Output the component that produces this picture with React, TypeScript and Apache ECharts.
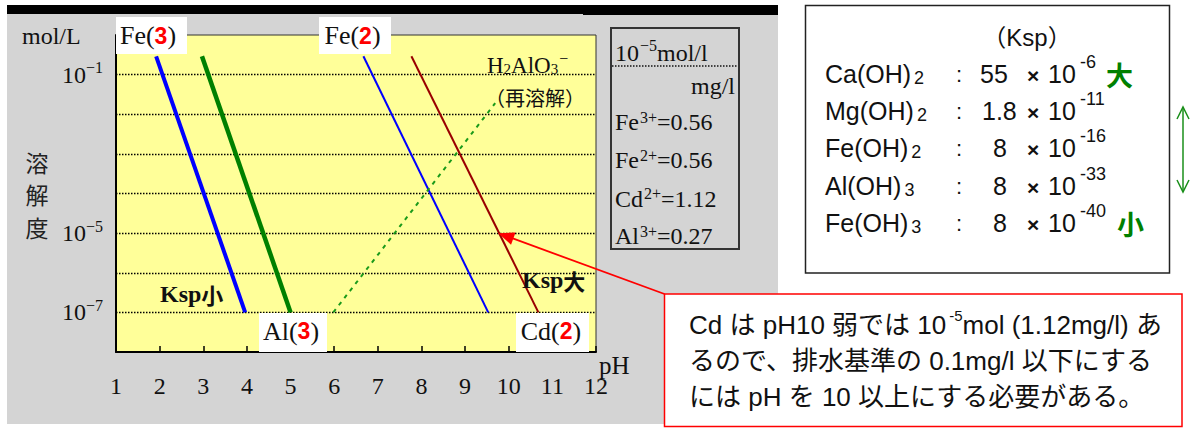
import React, { useEffect, useRef } from 'react';
import * as echarts from 'echarts';

const SERIF = "'Liberation Serif', 'DejaVu Serif', serif";
const SANS = "'Liberation Sans', Arial, sans-serif";
const CJK = "'Noto Sans CJK JP', sans-serif";
const MIXED = "'Liberation Sans', 'Noto Sans CJK JP', sans-serif";

// ---- axes ----
const PH_RANGE = [1, 12];
const SOLUBILITY_RANGE = [1e-8, 1];
const LABELED_EXPONENTS = [-1, -5, -7];

// ---- solubility lines: [pH, mol/L] ----
const FE3_LINE = [[1.92, 0.29], [3.96, 1e-7]];
const AL3_LINE = [[2.97, 0.29], [5.0, 1e-7]];
const FE2_LINE = [[6.67, 0.29], [9.53, 1e-7]];
const CD2_LINE = [[7.77, 0.29], [10.68, 1e-7]];
const ALUMINATE_LINE = [[5.98, 1e-7], [9.69, 0.019]];

// point on the Cd line referred to by the note
const CD_NOTE_POINT = [9.76, 1e-5];

// ---- 10^-5 mol/l expressed in mg/l ----
const ION_NAMES = ['Fe', 'Fe', 'Cd', 'Al'];
const ION_CHARGES = ['3+', '2+', '2+', '3+'];
const ION_MGL = ['0.56', '0.56', '1.12', '0.27'];

// ---- solubility products ----
const KSP_BASES = ['Ca(OH)', 'Mg(OH)', 'Fe(OH)', 'Al(OH)', 'Fe(OH)'];
const KSP_SUBS = ['2', '2', '2', '3', '3'];
const KSP_COEFS = ['55', '1.8', '8', '8', '8'];
const KSP_EXPS = ['-6', '-11', '-16', '-33', '-40'];

// ---- note text ----
const NOTE_LINE1_A = 'Cd は pH10 弱では 10';
const NOTE_LINE1_SUP = '-5';
const NOTE_LINE1_B = 'mol (1.12mg/l) あ';
const NOTE_LINE2 = 'るので、排水基準の 0.1mg/l 以下にする';
const NOTE_LINE3 = 'には pH を 10 以上にする必要がある。';

// ---- layout ----
const GRID = { left: 116, top: 35, width: 480, height: 317 };
const KSP_ROW_Y = [74, 111, 148, 186, 223];
const KSP_COEF_X = [980, 982, 993, 993, 993];
const ION_ROW_Y = [122, 160, 198.5, 236];
const NOTE_CORNER = [664.5, 294];

type El = Record<string, any>;

const al = (h: string, v: string) => ({ align: h, textAlign: h, verticalAlign: v, textVerticalAlign: v });

const text = (x: number, y: number, content: string, style: El = {}, z = 12): El => ({
  type: 'text',
  x,
  y,
  z,
  silent: true,
  style: { text: content, fill: '#111', ...al('left', 'middle'), ...style },
});

const rect = (x: number, y: number, w: number, h: number, style: El, z = 10): El => ({
  type: 'rect',
  z,
  silent: true,
  shape: { x, y, width: w, height: h },
  style,
});

const TAG_RICH = {
  t: { fontFamily: SERIF, fontSize: 26, fill: '#111' },
  r: { fontFamily: SANS, fontWeight: 'bold', fontSize: 23, fill: '#ff0000' },
};

const tag = (x: number, y: number, w: number, h: number, cx: number, cy: number, name: string, num: string): El[] => [
  rect(x, y, w, h, { fill: '#ffffff' }, 11),
  text(cx, cy, `{t|${name}(}{r|${num}}{t|)}`, { ...al('center', 'middle'), rich: TAG_RICH }, 12),
];

const LEG_RICH = {
  t: { fontFamily: SERIF, fontSize: 24, fill: '#111' },
  s: { fontFamily: SERIF, fontSize: 16, fill: '#111', padding: [0, 0, 10, 1] },
  S: { fontFamily: SERIF, fontSize: 16, fill: '#111', padding: [0, 0, 15, 1] },
};

function baseElements(): El[] {
  const els: El[] = [];

  // panel behind the chart
  els.push(rect(7, 13, 771, 411, { fill: '#d4d4d4' }, -10));
  els.push(rect(7, 5, 771, 9, { fill: '#000000' }, -9));
  els.push(rect(583, 13, 195, 2, { fill: '#000000' }, -9));

  // line tags
  els.push(...tag(116, 17, 71, 37, 148, 35.5, 'Fe', '3'));
  els.push(...tag(319, 17, 72, 37, 352.5, 35.5, 'Fe', '2'));
  els.push(...tag(259, 313, 68, 39, 291, 331, 'Al', '3'));
  els.push(...tag(516, 313, 73, 39, 551, 331, 'Cd', '2'));

  // aluminate annotation
  els.push(
    text(487, 65, '{t|H}{b|2}{t|AlO}{b|3}{p|−}', {
      rich: {
        t: { fontFamily: SERIF, fontSize: 23, fill: '#111' },
        b: { fontFamily: SERIF, fontSize: 15, fill: '#111', padding: [8, 0, 0, 0] },
        p: { fontFamily: SERIF, fontSize: 16, fill: '#111', padding: [0, 0, 14, 1] },
      },
    })
  );
  els.push(text(485, 97, '（再溶解）', { fontFamily: CJK, fontSize: 20 }));

  // Ksp small / large
  const kspRich = {
    k: { fontFamily: SERIF, fontWeight: 'bold', fontSize: 24, fill: '#111' },
    c: { fontFamily: CJK, fontWeight: 'bold', fontSize: 22, fill: '#111' },
  };
  els.push(text(160, 294, '{k|Ksp}{c|小}', { rich: kspRich }));
  els.push(text(522, 280, '{k|Ksp}{c|大}', { rich: kspRich }));

  // axis titles
  els.push(text(22, 36, 'mol/L', { fontFamily: SERIF, fontSize: 24 }));
  els.push(
    text(37, 194, '溶\n解\n度', { fontFamily: CJK, fontSize: 23, lineHeight: 32.5, fill: '#222', ...al('center', 'middle') })
  );
  els.push(text(599, 365, 'pH', { fontFamily: SERIF, fontSize: 25 }));

  // mg/l reference box
  els.push(rect(611, 28, 128, 221, { fill: 'none', stroke: '#333', lineWidth: 2 }, 10));
  els.push(text(615, 53, '{t|10}{S|−5}{t|mol/l}', { rich: LEG_RICH }));
  els.push({
    type: 'line',
    z: 11,
    silent: true,
    shape: { x1: 612, y1: 66, x2: 738, y2: 66 },
    style: { stroke: '#111', lineWidth: 1.4, lineDash: [1.5, 1.5] },
  });
  els.push(text(735, 86, 'mg/l', { fontFamily: SERIF, fontSize: 24, ...al('right', 'middle') }));
  ION_NAMES.forEach((n, i) => {
    els.push(text(615, ION_ROW_Y[i], `{t|${n}}{s|${ION_CHARGES[i]}}{t|=${ION_MGL[i]}}`, { rich: LEG_RICH }));
  });

  // Ksp table
  els.push(rect(805.5, 5.5, 364, 267.5, { fill: '#ffffff', stroke: '#222', lineWidth: 1.5 }, 10));
  els.push(text(1027, 37, '（Ksp）', { fontFamily: MIXED, fontSize: 24, ...al('center', 'middle') }));
  KSP_BASES.forEach((b, i) => {
    const y = KSP_ROW_Y[i];
    els.push(
      text(825, y, `{f|${b}}{b|${KSP_SUBS[i]}}`, {
        rich: {
          f: { fontFamily: SANS, fontSize: 25, fill: '#111' },
          b: { fontFamily: SANS, fontSize: 18, fill: '#111', padding: [7, 0, 0, 3] },
        },
      })
    );
    els.push(text(959, y, ':', { fontFamily: SANS, fontSize: 22, ...al('center', 'middle') }));
    els.push(text(KSP_COEF_X[i], y, KSP_COEFS[i], { fontFamily: SANS, fontSize: 25 }));
    els.push(text(1027, y + 1, '×', { fontFamily: SANS, fontWeight: 'bold', fontSize: 21 }));
    els.push(text(1048, y, '10', { fontFamily: SANS, fontSize: 25 }));
    els.push(text(1080, y - 12, KSP_EXPS[i], { fontFamily: SANS, fontSize: 18 }));
  });
  els.push(text(1106, KSP_ROW_Y[0], '大', { fontFamily: CJK, fontWeight: 'bold', fontSize: 27, fill: '#008000' }));
  els.push(text(1117, KSP_ROW_Y[4], '小', { fontFamily: CJK, fontWeight: 'bold', fontSize: 27, fill: '#008000' }));

  // green double arrow beside the table
  const ga = { stroke: '#1a8f1a', lineWidth: 1.5, fill: 'none' };
  els.push({ type: 'line', z: 11, silent: true, shape: { x1: 1183, y1: 107, x2: 1183, y2: 192 }, style: ga });
  els.push({ type: 'polyline', z: 11, silent: true, shape: { points: [[1177, 119], [1183, 107], [1189, 119]] }, style: ga });
  els.push({ type: 'polyline', z: 11, silent: true, shape: { points: [[1177, 180], [1183, 192], [1189, 180]] }, style: ga });

  // note box
  els.push(rect(664.5, 294, 517.5, 132.5, { fill: '#ffffff', stroke: '#ff0000', lineWidth: 1.5 }, 13));
  els.push(
    text(689, 325, `{t|${NOTE_LINE1_A}}{s|${NOTE_LINE1_SUP}}{t|${NOTE_LINE1_B}}`, {
      rich: {
        t: { fontFamily: MIXED, fontSize: 26, fill: '#111' },
        s: { fontFamily: SANS, fontSize: 15, fill: '#111', padding: [0, 0, 20, 3] },
      },
    }, 14)
  );
  els.push(text(689, 361, NOTE_LINE2, { fontFamily: MIXED, fontSize: 26 }, 14));
  els.push(text(689, 397, NOTE_LINE3, { fontFamily: MIXED, fontSize: 26 }, 14));

  return els;
}

function arrowElements(tip: number[]): El[] {
  const [sx, sy] = NOTE_CORNER;
  const [tx, ty] = tip;
  const dx = tx - sx;
  const dy = ty - sy;
  const len = Math.hypot(dx, dy);
  const ux = dx / len;
  const uy = dy / len;
  const headLen = 16;
  const headHalf = 6.5;
  const bx = tx - ux * headLen;
  const by = ty - uy * headLen;
  return [
    {
      type: 'line',
      z: 15,
      silent: true,
      shape: { x1: sx, y1: sy, x2: bx + ux * 2, y2: by + uy * 2 },
      style: { stroke: '#ff0000', lineWidth: 1.8 },
    },
    {
      type: 'polygon',
      z: 15,
      silent: true,
      shape: {
        points: [
          [tx, ty],
          [bx - uy * headHalf, by + ux * headHalf],
          [bx + uy * headHalf, by - ux * headHalf],
        ],
      },
      style: { fill: '#ff0000' },
    },
  ];
}

const lineSeries = (name: string, data: number[][], color: string, width: number, type: any = 'solid') => ({
  type: 'line',
  name,
  data,
  showSymbol: false,
  symbol: 'none',
  silent: true,
  z: 3,
  lineStyle: { color, width, type },
});

function buildOption(extra: El[] = []) {
  return {
    animation: false,
    backgroundColor: '#ffffff',
    grid: {
      ...GRID,
      show: true,
      backgroundColor: '#ffff99',
      borderColor: '#333',
      borderWidth: 1,
      containLabel: false,
      outerBoundsMode: 'none',
    },
    xAxis: {
      type: 'value',
      min: PH_RANGE[0],
      max: PH_RANGE[1],
      interval: 1,
      axisLine: { show: true, onZero: false, lineStyle: { color: '#000', width: 2 } },
      axisTick: { show: true, inside: true, length: 6, lineStyle: { color: '#000', width: 1.5 } },
      axisLabel: { fontFamily: SERIF, fontSize: 24, color: '#111', margin: 22 },
      splitLine: { show: false },
    },
    yAxis: {
      type: 'log',
      logBase: 10,
      min: SOLUBILITY_RANGE[0],
      max: SOLUBILITY_RANGE[1],
      splitNumber: 8,
      axisLine: { show: true, onZero: false, lineStyle: { color: '#000', width: 2 } },
      axisTick: { show: false },
      axisLabel: {
        margin: 13,
        formatter: (v: number) => {
          const e = Math.round(Math.log10(v));
          return LABELED_EXPONENTS.includes(e) ? `{b|10}{s|−${-e}}` : '';
        },
        rich: {
          b: { fontFamily: SERIF, fontSize: 24, color: '#111' },
          s: { fontFamily: SERIF, fontSize: 16, color: '#111', padding: [0, 0, 14, 0] },
        },
      },
      splitLine: {
        show: true,
        showMinLine: false,
        showMaxLine: false,
        lineStyle: { color: '#000', width: 1.4, type: [1.5, 1.5] },
      },
    },
    series: [
      lineSeries('Fe(3)', FE3_LINE, '#0000ff', 4),
      lineSeries('Al(3)', AL3_LINE, '#008000', 4.5),
      lineSeries('Fe(2)', FE2_LINE, '#0000ff', 2),
      lineSeries('Cd(2)', CD2_LINE, '#990000', 2),
      lineSeries('H2AlO3-', ALUMINATE_LINE, '#1a9a1a', 2, [4, 5]),
    ],
    graphic: { elements: [...baseElements(), ...extra] },
  };
}

export default function App() {
  const ref = useRef<HTMLDivElement>(null);
  useEffect(() => {
    const el = ref.current;
    if (!el) return;
    const chart = echarts.init(el, null, { renderer: 'svg' });
    chart.setOption(buildOption());
    const tip = chart.convertToPixel({ xAxisIndex: 0, yAxisIndex: 0 }, CD_NOTE_POINT) as number[];
    chart.setOption(buildOption(arrowElements(tip)), true);
    return () => chart.dispose();
  }, []);
  return <div ref={ref} style={{ position: 'absolute', left: 0, top: 0, width: 1192, height: 428 }} />;
}
